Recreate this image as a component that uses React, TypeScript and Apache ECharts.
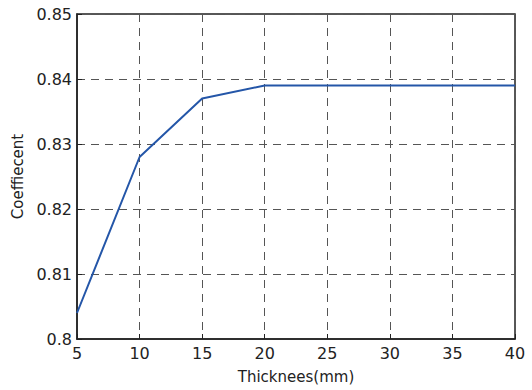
import React, { useEffect, useRef } from "react";
import * as echarts from "echarts";

const thickness = [5, 10, 15, 20, 25, 30, 35, 40];
const coefficient = [0.804, 0.828, 0.837, 0.839, 0.839, 0.839, 0.839, 0.839];
const xTicks = [5, 10, 15, 20, 25, 30, 35, 40];
const yTicks = [0.8, 0.81, 0.82, 0.83, 0.84, 0.85];

export default function App() {
  const ref = useRef<HTMLDivElement>(null);
  useEffect(() => {
    if (!ref.current) return;
    const chart = echarts.init(ref.current, null, { renderer: "svg" });
    const font = "'DejaVu Sans', 'Noto Sans', sans-serif";
    chart.setOption({
      animation: false,
      backgroundColor: "#ffffff",
      grid: {
        left: 77,
        right: 17,
        top: 14,
        bottom: 51,
        show: true,
        borderColor: "#222",
        borderWidth: 1.5,
        backgroundColor: "transparent",
      },
      xAxis: {
        type: "value",
        min: xTicks[0],
        max: xTicks[xTicks.length - 1],
        interval: 5,
        name: "Thicknees(mm)",
        nameLocation: "middle",
        nameGap: 30,
        nameTextStyle: { fontFamily: font, fontSize: 15, color: "#222" },
        axisLine: { show: true, lineStyle: { color: "#222", width: 1.5 } },
        axisTick: { show: true, inside: true, length: 5, lineStyle: { color: "#222" } },
        axisLabel: {
          fontFamily: font,
          fontSize: 16,
          color: "#222",
          margin: 6,
          formatter: (v: number) => String(v),
        },
        splitLine: {
          show: true,
          lineStyle: { color: "#555", type: [8, 6], width: 1 },
        },
      },
      yAxis: {
        type: "value",
        min: yTicks[0],
        max: yTicks[yTicks.length - 1],
        interval: 0.01,
        name: "Coeffiecent",
        nameLocation: "middle",
        nameGap: 50,
        nameTextStyle: { fontFamily: font, fontSize: 15, color: "#222" },
        axisLine: { show: true, lineStyle: { color: "#222", width: 1.5 } },
        axisTick: { show: true, inside: true, length: 5, lineStyle: { color: "#222" } },
        axisLabel: {
          fontFamily: font,
          fontSize: 16,
          color: "#222",
          margin: 5,
          formatter: (v: number) => String(Math.round(v * 100) / 100),
        },
        splitLine: {
          show: true,
          lineStyle: { color: "#555", type: [8, 6], width: 1 },
        },
      },
      series: [
        {
          type: "line",
          data: thickness.map((t, i) => [t, coefficient[i]]),
          showSymbol: false,
          lineStyle: { color: "#2456a8", width: 2 },
        },
      ],
    });
    return () => chart.dispose();
  }, []);
  return (
    <div
      ref={ref}
      style={{ position: "fixed", left: 0, top: 0, width: 532, height: 390 }}
    />
  );
}
